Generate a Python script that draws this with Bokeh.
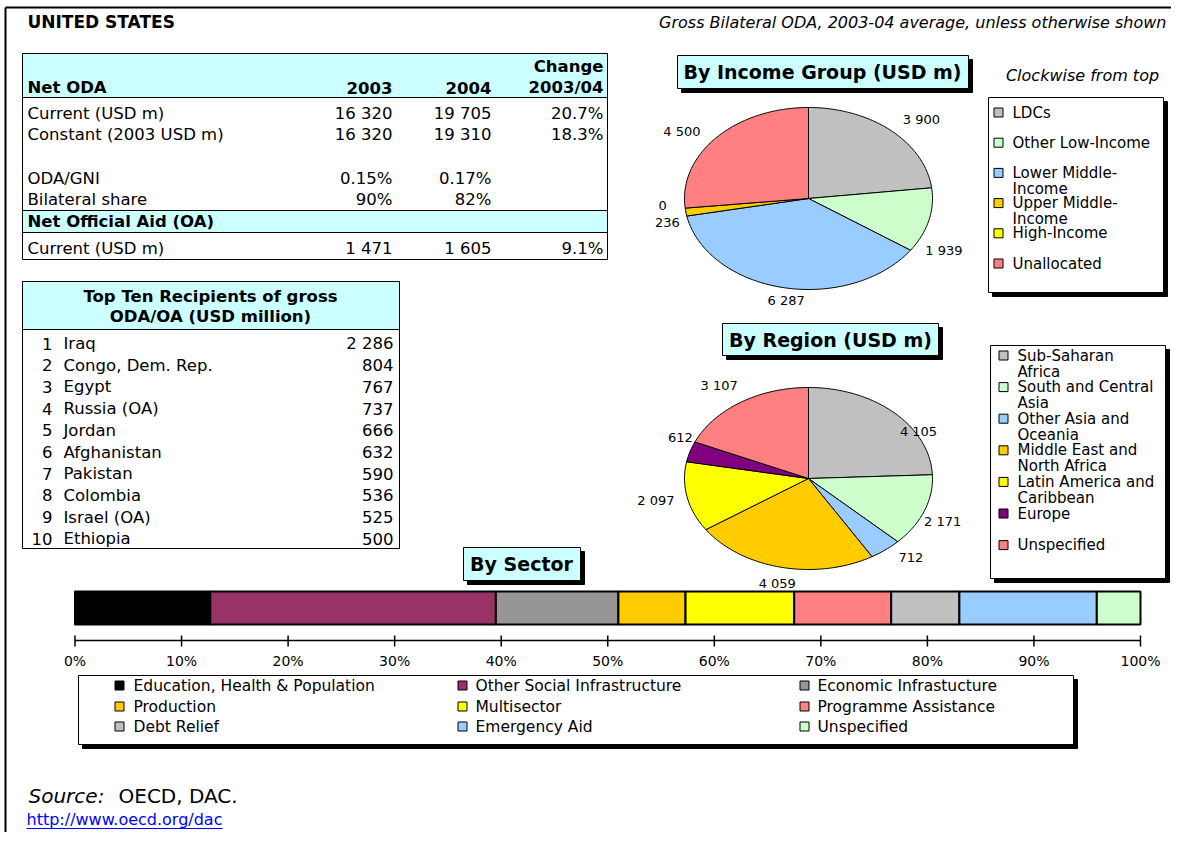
import textwrap
import numpy as np
from bokeh.plotting import figure
from bokeh.models import Range1d
from bokeh.core.properties import value
from bokeh.embed import file_html
from bokeh.resources import INLINE

# ---------------- data ----------------
country = "UNITED STATES"
subtitle = "Gross Bilateral ODA, 2003-04 average, unless otherwise shown"

oda_years = ["2003", "2004"]
oda_labels = ["Current (USD m)", "Constant (2003 USD m)", "ODA/GNI", "Bilateral share"]
oda_2003 = ["16 320", "16 320", "0.15%", "90%"]
oda_2004 = ["19 705", "19 310", "0.17%", "82%"]
oda_change = ["20.7%", "18.3%", "", ""]
oa_labels = ["Current (USD m)"]
oa_2003 = ["1 471"]
oa_2004 = ["1 605"]
oa_change = ["9.1%"]

top_names = ["Iraq", "Congo, Dem. Rep.", "Egypt", "Russia (OA)", "Jordan",
             "Afghanistan", "Pakistan", "Colombia", "Israel (OA)", "Ethiopia"]
top_values = [2286, 804, 767, 737, 666, 632, 590, 536, 525, 500]

income_groups = ["LDCs", "Other Low-Income", "Lower Middle-Income",
                 "Upper Middle-Income", "High-Income", "Unallocated"]
income_values = [3900, 1939, 6287, 236, 0, 4500]

region_names = ["Sub-Saharan Africa", "South and Central Asia", "Other Asia and Oceania",
                "Middle East and North Africa", "Latin America and Caribbean",
                "Europe", "Unspecified"]
region_values = [4105, 2171, 712, 4059, 2097, 612, 3107]

sector_names = ["Education, Health & Population", "Other Social Infrastructure",
                "Economic Infrastucture", "Production", "Multisector",
                "Programme Assistance", "Debt Relief", "Emergency Aid", "Unspecified"]
sector_shares = [12.7, 26.8, 11.5, 6.3, 10.2, 9.1, 6.4, 12.9, 4.1]
pct_ticks = [0, 10, 20, 30, 40, 50, 60, 70, 80, 90, 100]

# ---------------- styles ----------------
income_colors = ["#C0C0C0", "#CCFFCC", "#99CCFF", "#FFCC00", "#FFFF00", "#FF8080"]
region_colors = ["#C0C0C0", "#CCFFCC", "#99CCFF", "#FFCC00", "#FFFF00", "#800080", "#FF8080"]
sector_colors = ["#000000", "#993366", "#969696", "#FFCC00", "#FFFF00",
                 "#FF8080", "#C0C0C0", "#99CCFF", "#CCFFCC"]
CYAN = "#CCFFFF"
FONT = "DejaVu Sans"
FS_TAB = "16.5px"

# label nudges (pixels, screen) for pie data labels
income_nudge = [(14, 3), (-9, 26), (8, -5), (6, 8), (2, -5), (-16, 6)]
region_nudge = [(7, 32), (-5, 4), (10, -7), (1, -2), (-7, 0), (14, -9), (-8, -2)]

W, H = 1171, 832
X0, X1, YTOP, YBOT = 0, W, 0, H
p = figure(width=W, height=H, x_range=Range1d(X0, X1),
           y_range=Range1d(YBOT, YTOP), output_backend="svg", toolbar_location=None,
           x_axis_type=None, y_axis_type=None, min_border=0)
p.grid.visible = False
p.outline_line_color = None
p.background_fill_color = "white"


def _aslist(v):
    return list(v) if isinstance(v, (list, tuple, np.ndarray)) else [v]


def txt(x, y, s, size, align="left", style="normal", color="black", **kw):
    xs, ys, ss = _aslist(x), _aslist(y), _aslist(s)
    n = max(len(xs), len(ys), len(ss))
    xs = xs * n if len(xs) == 1 else xs
    ys = ys * n if len(ys) == 1 else ys
    ss = ss * n if len(ss) == 1 else ss
    p.text(x=xs, y=ys, text=ss, text_font=value(FONT),
           text_font_size=value(size), text_font_style=style, text_align=align,
           text_baseline="middle", text_color=color, **kw)


def box(l, r, t, b, fill="white", shadow=0, lw=1):
    if shadow:
        p.quad(left=[l + shadow], right=[r + shadow], top=[t + shadow], bottom=[b + shadow],
               fill_color="black", line_color="black")
    p.quad(left=[l], right=[r], top=[t], bottom=[b], fill_color=fill,
           line_color="black", line_width=lw)


fmt = lambda v: f"{v:,}".replace(",", " ")

# frame
p.segment(x0=[5, 5], x1=[5, X1], y0=[YBOT, 7], y1=[7, 7], line_color="black", line_width=2)

# titles
txt(27, 21, country, "17px", style="bold")
txt(1166, 22, subtitle, "16px", align="right", style="italic")

# ---------------- Net ODA table ----------------
box(22, 607, 53, 259)
p.quad(left=[22], right=[607], top=[53], bottom=[97], fill_color=CYAN, line_color="black")
p.quad(left=[22], right=[607], top=[210], bottom=[232], fill_color=CYAN, line_color="black")
txt(27, 87, "Net ODA", FS_TAB, style="bold")
txt([392, 491], [87, 87], oda_years, FS_TAB, align="right", style="bold")
txt(603, 66, "Change", FS_TAB, align="right", style="bold")
txt(603, 87, "2003/04", FS_TAB, align="right", style="bold")
oda_y = [113, 134, 178, 199]
txt(27, oda_y, oda_labels, FS_TAB)
txt(392, oda_y, oda_2003, FS_TAB, align="right")
txt(491, oda_y, oda_2004, FS_TAB, align="right")
txt(603, oda_y, oda_change, FS_TAB, align="right")
txt(27, 221, "Net Official Aid (OA)", FS_TAB, style="bold")
txt(27, 248, oa_labels, FS_TAB)
txt(392, 248, oa_2003, FS_TAB, align="right")
txt(491, 248, oa_2004, FS_TAB, align="right")
txt(603, 248, oa_change, FS_TAB, align="right")

# ---------------- Top ten table ----------------
box(22, 399, 281, 548)
p.quad(left=[22], right=[399], top=[281], bottom=[329], fill_color=CYAN, line_color="black")
txt(210, 296, "Top Ten Recipients of gross", FS_TAB, align="center", style="bold")
txt(210, 316, "ODA/OA (USD million)", FS_TAB, align="center", style="bold")
ty = [343 + 21.7 * i for i in range(len(top_names))]
txt(52, ty, [str(i + 1) for i in range(len(top_names))], FS_TAB, align="right")
txt(63, ty, top_names, FS_TAB)
txt(393, ty, [fmt(v) for v in top_values], FS_TAB, align="right")


# ---------------- pies ----------------
def add_pie(name, cx, cy, rx, ry, values, colors, nudges):
    p.extra_x_ranges[name] = Range1d((X0 - cx) / rx, (X1 - cx) / rx)
    p.extra_y_ranges[name] = Range1d((cy - YBOT) / ry, (cy - YTOP) / ry)
    vals = np.array(values, dtype=float)
    cum = np.concatenate([[0], np.cumsum(vals)]) / vals.sum()
    xs, ys, cols = [], [], []
    lx, ly = [], []
    for i, v in enumerate(vals):
        a0 = np.pi / 2 - 2 * np.pi * cum[i]
        a1 = np.pi / 2 - 2 * np.pi * cum[i + 1]
        if v > 0:
            t = np.linspace(a0, a1, max(3, int(abs(a1 - a0) * 60)))
            xs.append(list(np.concatenate([[0], np.cos(t)])))
            ys.append(list(np.concatenate([[0], np.sin(t)])))
            cols.append(colors[i])
        am = (a0 + a1) / 2
        dx, dy = nudges[i]
        lx.append(1.2 * np.cos(am) + dx / rx)
        ly.append(1.2 * np.sin(am) - dy / ry)
    p.patches(xs, ys, fill_color=cols, line_color="black", line_width=1,
              x_range_name=name, y_range_name=name)
    p.text(x=lx, y=ly, text=[fmt(int(v)) for v in values], text_font=value(FONT),
           text_font_size=value("13px"), text_align="center", text_baseline="middle",
           x_range_name=name, y_range_name=name)


add_pie("inc", 808, 198, 124, 91, income_values, income_colors, income_nudge)
add_pie("reg", 808, 478, 124, 91, region_values, region_colors, region_nudge)

# title boxes
box(677, 968, 55, 88, fill=CYAN, shadow=4)
txt(822, 71, "By Income Group (USD m)", "19px", align="center", style="bold")
box(722, 938, 323, 355, fill=CYAN, shadow=4)
txt(830, 339, "By Region (USD m)", "19px", align="center", style="bold")
box(463, 580, 547, 580, fill=CYAN, shadow=4)
txt(521, 563, "By Sector", "19px", align="center", style="bold")
txt(1082, 75, "Clockwise from top", "16px", align="center", style="italic")


def pie_legend(l, r, t, b, names, colors, y0, step, mx, tx, width):
    box(l, r, t, b, shadow=4)
    for i, nm in enumerate(names):
        yy = y0 + step * i
        p.rect(x=[mx], y=[yy], width=9, height=9, fill_color=colors[i], line_color="black")
        lines = textwrap.wrap(nm, width)
        txt(tx, [yy + 16 * k for k in range(len(lines))], lines, "15px")


pie_legend(988, 1163, 97, 292, income_groups, income_colors, 112, 30.2, 998, 1012, 16)
pie_legend(990, 1165, 345, 578, region_names, region_colors, 355, 31.6, 1003, 1017, 17)

# ---------------- sector bar ----------------
PX0, PXS = 74.5, 10.655
p.extra_x_ranges["pct"] = Range1d((X0 - PX0) / PXS, (X1 - PX0) / PXS)
right = np.cumsum(sector_shares)
left = right - np.array(sector_shares)
p.quad(left=list(left), right=list(right), top=591, bottom=624, fill_color=sector_colors,
       line_color="black", line_width=2, x_range_name="pct")
p.segment(x0=[0], x1=[100], y0=[640], y1=[640], line_color="black", line_width=1.5,
          x_range_name="pct")
p.segment(x0=pct_ticks, x1=pct_ticks, y0=[635] * len(pct_ticks), y1=[646] * len(pct_ticks),
          line_color="black", line_width=1.5, x_range_name="pct")
p.text(x=pct_ticks, y=[660] * len(pct_ticks), text=[f"{t}%" for t in pct_ticks],
       text_font=value(FONT), text_font_size=value("14px"), text_align="center",
       text_baseline="middle", x_range_name="pct")

# sector legend
box(78, 1073, 675, 744, shadow=4)
col_mx = [119, 462, 804]
col_tx = [133, 475, 817]
row_y = [685, 706, 726]
for i, nm in enumerate(sector_names):
    c, r = i % 3, i // 3
    p.rect(x=[col_mx[c]], y=[row_y[r]], width=9, height=9, fill_color=sector_colors[i],
           line_color="black")
    txt(col_tx[c], row_y[r], nm, "15.5px")

# source
txt(28, 795, "Source:", "20px", style="italic")
txt(118, 795, "OECD, DAC.", "20px")
txt(26, 819, "http://www.oecd.org/dac", "16px", color="#0000FF")
p.segment(x0=[26], x1=[222], y0=[828], y1=[828], line_color="#0000FF", line_width=1)

open("out.html", "w").write(file_html(p, INLINE))
